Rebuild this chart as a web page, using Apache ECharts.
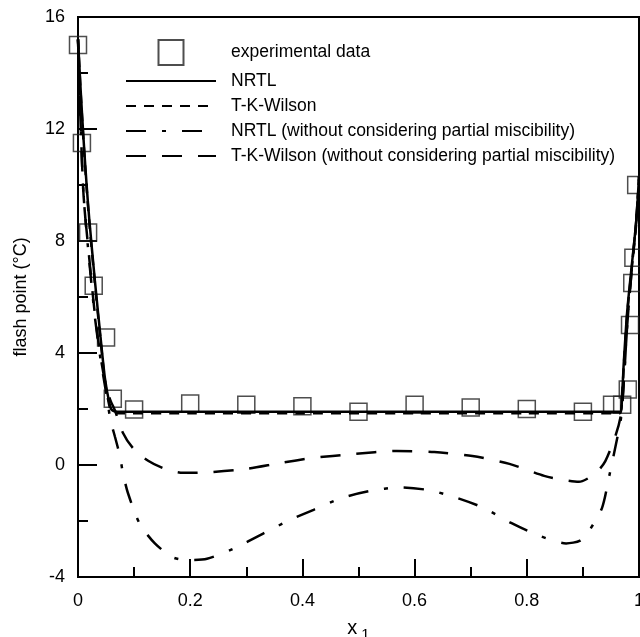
<!DOCTYPE html>
<html lang="en">
<head>
    <meta charset="UTF-8">
    <title>Flash point vs x1</title>
    <script src="https://cdn.jsdelivr.net/npm/echarts@6/dist/echarts.min.js"></script>
    <style>
        body { margin: 0; background: #fff; }
        #chart { width: 640px; height: 637px; }
    </style>
</head>
<body>
    <div id="chart"></div>
    <script>
        // experimental flash points
        const expData = [
            [0.0, 15.0], [0.007, 11.5], [0.018, 8.3], [0.028, 6.4], [0.05, 4.55],
            [0.062, 2.37], [0.1, 1.98], [0.2, 2.2], [0.3, 2.15], [0.4, 2.1],
            [0.5, 1.9], [0.6, 2.15], [0.7, 2.05], [0.8, 2.0], [0.9, 1.9],
            [0.952, 2.15], [0.97, 2.15], [0.98, 2.7], [0.984, 5.0], [0.988, 6.5],
            [0.99, 7.4], [0.995, 10.0]
        ];

        const nrtl = [
            [0, 15.2], [0.005, 13.3], [0.01, 11.6], [0.015, 10.1], [0.02, 8.8],
            [0.03, 6.6], [0.04, 4.6], [0.048, 3.1], [0.055, 2.3], [0.06, 1.97],
            [0.07, 1.9], [0.2, 1.9], [0.4, 1.9], [0.6, 1.9], [0.8, 1.9],
            [0.966, 1.9], [0.97, 2.6], [0.973, 3.7], [0.979, 5.5], [0.988, 7.3],
            [0.995, 8.7], [1.0, 10.3]
        ];

        const tkWilson = [
            [0, 15.2], [0.005, 13.2], [0.01, 11.5], [0.015, 10.0], [0.02, 8.7],
            [0.03, 6.5], [0.04, 4.5], [0.048, 3.0], [0.055, 2.2], [0.06, 1.9],
            [0.07, 1.85], [0.2, 1.85], [0.4, 1.85], [0.6, 1.85], [0.8, 1.85],
            [0.966, 1.85], [0.97, 2.5], [0.973, 3.6], [0.979, 5.4], [0.988, 7.2],
            [0.995, 8.6], [1.0, 10.2]
        ];

        const nrtlNoPM = [
            [0, 15.2], [0.005, 12.0], [0.01, 9.6], [0.02, 7.3], [0.03, 5.3],
            [0.04, 3.8], [0.05, 2.6], [0.058, 1.6], [0.066, 1.0], [0.075, 0.3],
            [0.08, -0.28], [0.089, -1.0], [0.11, -2.1], [0.137, -2.8], [0.169, -3.3],
            [0.196, -3.4], [0.23, -3.35], [0.276, -3.0], [0.33, -2.45], [0.377, -1.97],
            [0.42, -1.6], [0.47, -1.18], [0.52, -0.93], [0.573, -0.8], [0.626, -0.9],
            [0.676, -1.18], [0.724, -1.54], [0.772, -2.07], [0.819, -2.5], [0.87, -2.8],
            [0.895, -2.7], [0.911, -2.35], [0.934, -1.54], [0.947, -0.39], [0.959, 0.75],
            [0.968, 1.68], [0.973, 3.0], [0.979, 5.0], [0.988, 7.2], [0.995, 8.7], [1.0, 10.3]
        ];

        const tkWilsonNoPM = [
            [0, 15.2], [0.005, 12.0], [0.01, 9.6], [0.02, 7.4], [0.03, 5.4],
            [0.04, 3.9], [0.05, 2.8], [0.058, 2.3], [0.066, 1.94], [0.08, 1.15],
            [0.098, 0.6], [0.125, 0.15], [0.155, -0.14], [0.187, -0.28], [0.205, -0.28],
            [0.24, -0.25], [0.3, -0.14], [0.36, 0.07], [0.418, 0.25], [0.49, 0.39],
            [0.568, 0.5], [0.635, 0.46], [0.703, 0.32], [0.769, 0.04], [0.831, -0.39],
            [0.87, -0.55], [0.893, -0.6], [0.907, -0.5], [0.925, -0.25], [0.94, 0.14],
            [0.959, 1.1], [0.968, 1.82], [0.973, 3.0], [0.979, 5.0], [0.988, 7.2],
            [0.995, 8.7], [1.0, 10.3]
        ];

        const seriesNames = [
            'experimental data',
            'NRTL',
            'T-K-Wilson',
            'NRTL (without considering partial miscibility)',
            'T-K-Wilson (without considering partial miscibility)'
        ];

        const chart = echarts.init(document.getElementById('chart'));
        const font = "'Liberation Sans', Arial, sans-serif";

        function lineSeries(name, data, dash) {
            return {
                name: name,
                type: 'line',
                data: data,
                symbol: 'none',
                smooth: 0.25,
                z: 3,
                lineStyle: { color: '#000', width: 2.5, type: dash },
                itemStyle: { color: '#000' }
            };
        }

        // hide the marker that line series put in the middle of their legend icon
        const legendData = seriesNames.map((n, i) =>
            i === 0 ? { name: n } : { name: n, itemStyle: { opacity: 0 } });

        const option = {
            animation: false,
            grid: {
                left: 78, right: 1, top: 17, bottom: 60,
                outerBoundsMode: 'none',
                containLabel: false,
                show: true, borderColor: '#000', borderWidth: 2
            },
            legend: {
                orient: 'vertical',
                left: 120,
                top: 34,
                itemWidth: 90,
                itemHeight: 25,
                itemGap: 5,
                data: legendData,
                textStyle: { fontSize: 17.5, color: '#000', fontFamily: font, padding: [0, 0, 0, 10] }
            },
            xAxis: {
                type: 'value',
                min: 0, max: 1, interval: 0.2,
                name: '{x|x}{s|1}',
                nameLocation: 'middle',
                nameGap: 38,
                nameTextStyle: {
                    rich: {
                        x: { fontSize: 20, fontFamily: font, color: '#000' },
                        s: { fontSize: 15, fontFamily: font, color: '#000', padding: [12, 0, 0, 4] }
                    }
                },
                axisLine: { onZero: false, lineStyle: { color: '#000', width: 2 } },
                axisTick: { inside: true, length: 18, lineStyle: { color: '#000', width: 2 } },
                minorTick: { show: true, splitNumber: 2, length: 10, lineStyle: { color: '#000', width: 2 } },
                splitLine: { show: false },
                axisLabel: {
                    margin: 15, fontSize: 18, color: '#000', fontFamily: font,
                    formatter: v => (v === 0 || v === 1) ? String(v) : v.toFixed(1)
                }
            },
            yAxis: {
                type: 'value',
                min: -4, max: 16, interval: 4,
                name: 'flash point (°C)',
                nameLocation: 'middle',
                nameRotate: 90,
                nameGap: 48,
                nameTextStyle: { fontSize: 18, color: '#000', fontFamily: font },
                axisLine: { onZero: false, lineStyle: { color: '#000', width: 2 } },
                axisTick: { inside: true, length: 19, lineStyle: { color: '#000', width: 2 } },
                minorTick: { show: true, splitNumber: 2, length: 10, lineStyle: { color: '#000', width: 2 } },
                splitLine: { show: false },
                axisLabel: { margin: 13, fontSize: 18, color: '#000', fontFamily: font }
            },
            series: [
                {
                    name: seriesNames[0],
                    type: 'scatter',
                    data: expData,
                    symbol: 'path://M0,0L10,0L10,10L0,10Z',
                    symbolSize: 17,
                    z: 2,
                    itemStyle: { color: 'rgba(0,0,0,0)', borderColor: '#222', borderWidth: 1.5 }
                },
                lineSeries(seriesNames[1], nrtl, 'solid'),
                lineSeries(seriesNames[2], tkWilson, [10, 8]),
                lineSeries(seriesNames[3], nrtlNoPM, [20, 16, 4, 16]),
                lineSeries(seriesNames[4], tkWilsonNoPM, [20, 16])
            ]
        };

        chart.setOption(option);
    </script>
</body>
</html>
